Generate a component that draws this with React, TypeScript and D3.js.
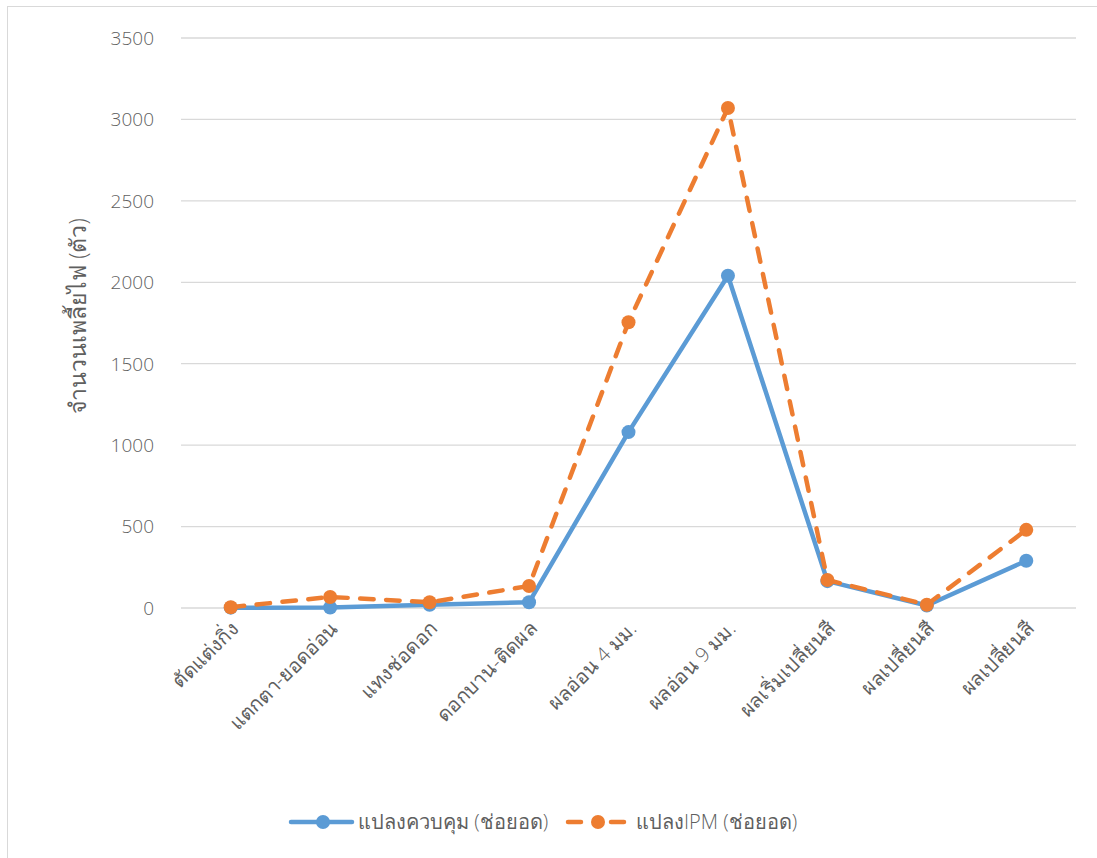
import React from "react";
import * as d3 from "d3";

const categories = [
  "ตัดแต่งกิ่ง",
  "แตกตา-ยอดอ่อน",
  "แทงช่อดอก",
  "ดอกบาน-ติดผล",
  "ผลอ่อน 4 มม.",
  "ผลอ่อน 9 มม.",
  "ผลเริ่มเปลี่ยนสี",
  "ผลเปลี่ยนสี",
  "ผลเปลี่ยนสี ",
];
const controlPlot = [2, 3, 20, 35, 1080, 2040, 165, 15, 290];
const ipmPlot = [5, 68, 35, 135, 1755, 3070, 172, 20, 480];
const yTicks = [0, 500, 1000, 1500, 2000, 2500, 3000, 3500];
const seriesNames = ["แปลงควบคุม (ช่อยอด)", "แปลงIPM (ช่อยอด)"];

const W = 1097;
const H = 858;
const left = 181;
const right = 1076;
const top = 38;
const bottom = 608;
const font = "'Open Sans', 'Noto Sans', sans-serif";
const textColor = "#5f5f5f";
const blue = "#5B9BD5";
const orange = "#ED7D31";

export default function App() {
  const x = d3.scaleBand<string>().domain(categories).range([left, right]);
  const y = d3.scaleLinear().domain([0, 3500]).range([bottom, top]);
  const cx = (i: number) => (x(categories[i]) as number) + x.bandwidth() / 2;
  const line = d3
    .line<number>()
    .x((_, i) => cx(i))
    .y((d) => y(d));

  return (
    <svg
      width={W}
      height={H}
      style={{ position: "absolute", left: 0, top: 0, background: "#fff" }}
    >
      <rect x={7.5} y={6.5} width={W + 10} height={H + 10} fill="#fff" stroke="#d9d9d9" />
      {yTicks.map((t) => (
        <g key={t}>
          <line x1={left} x2={right} y1={y(t)} y2={y(t)} stroke="#d9d9d9" strokeWidth={1.3} />
          <text
            x={154}
            y={y(t)}
            dy="0.36em"
            textAnchor="end"
            fontSize={19}
            fontWeight={300}
            fill={textColor}
            fontFamily={font}
          >
            {t}
          </text>
        </g>
      ))}
      <text
        transform={`translate(86, 316) rotate(-90)`}
        textAnchor="middle"
        fontSize={23}
        fontWeight={300}
        fill={textColor}
        fontFamily={font}
      >
        จำนวนเพลี้ยไฟ (ตัว)
      </text>
      {categories.map((c, i) => (
        <text
          key={i}
          transform={`translate(${cx(i) + 9}, 630) rotate(-45)`}
          textAnchor="end"
          fontSize={20}
          fontWeight={300}
          fill={textColor}
          fontFamily={font}
        >
          {c.trim()}
        </text>
      ))}
      <path
        d={line(controlPlot) as string}
        fill="none"
        stroke={blue}
        strokeWidth={4.5}
        strokeLinejoin="round"
        strokeLinecap="round"
      />
      {controlPlot.map((v, i) => (
        <circle key={i} cx={cx(i)} cy={y(v)} r={7} fill={blue} />
      ))}
      <path
        d={line(ipmPlot) as string}
        fill="none"
        stroke={orange}
        strokeWidth={4.5}
        strokeDasharray="13.5 12.5"
        strokeLinejoin="round"
        strokeLinecap="round"
      />
      {ipmPlot.map((v, i) => (
        <circle key={i} cx={cx(i)} cy={y(v)} r={7} fill={orange} />
      ))}
      <g fontFamily={font} fontSize={20} fontWeight={300} fill={textColor}>
        <line x1={291} x2={352} y1={822} y2={822} stroke={blue} strokeWidth={4.5} strokeLinecap="round" />
        <circle cx={323} cy={822} r={7} fill={blue} />
        <text x={358} y={822} dy="0.36em">
          {seriesNames[0]}
        </text>
        <line
          x1={568}
          x2={625}
          y1={822}
          y2={822}
          stroke={orange}
          strokeWidth={4.5}
          strokeLinecap="round"
          strokeDasharray="13 30"
        />
        <circle cx={598} cy={822} r={7} fill={orange} />
        <text x={636} y={822} dy="0.36em">
          {seriesNames[1]}
        </text>
      </g>
    </svg>
  );
}
